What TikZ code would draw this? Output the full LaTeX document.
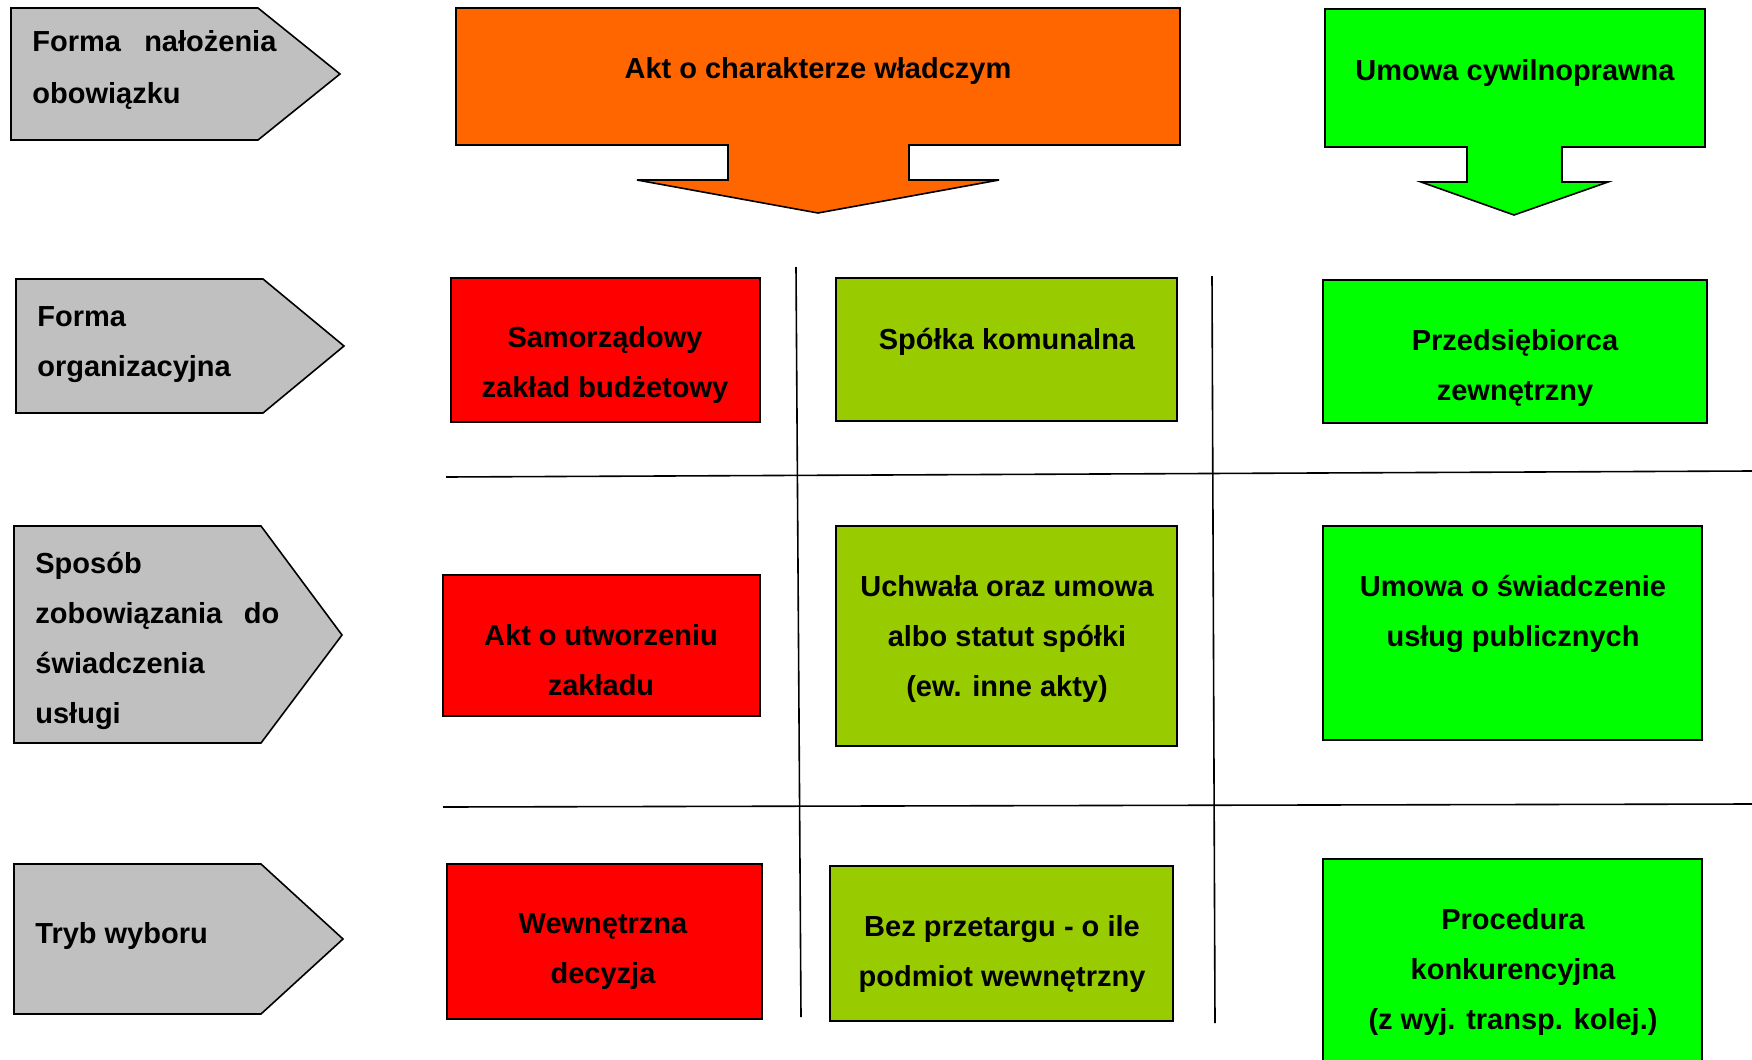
\documentclass[tikz,border=0pt]{standalone}
\usepackage{fontspec}
\setmainfont{Liberation Sans}
\definecolor{cgray}{HTML}{C0C0C0}
\definecolor{corange}{HTML}{FF6600}
\definecolor{cred}{HTML}{FF0000}
\definecolor{colive}{HTML}{99CC00}
\definecolor{cgreen}{HTML}{00FF00}
\begin{document}
\begin{tikzpicture}[x=0.5pt,y=-0.5pt,
  shape border/.style={draw=black, line width=0.8pt, line join=miter},
  grayarrow/.style={shape border, fill=cgray},
  redbox/.style={shape border, fill=cred},
  olivebox/.style={shape border, fill=colive},
  greenbox/.style={shape border, fill=cgreen},
  orangearrow/.style={shape border, fill=corange},
  gridline/.style={draw=black, line width=0.8pt},
  lbl/.style={font=\fontsize{14.5}{25}\selectfont\bfseries, align=center, inner sep=0pt},
  side/.style={font=\fontsize{14.5}{25}\selectfont\bfseries, align=left, anchor=west, inner sep=0pt}]
\useasboundingbox (0,0) rectangle (1752,1060);
\clip (0,0) rectangle (1752,1060);
\fill[white] (0,0) rectangle (1752,1060);

% left category arrows
\draw[grayarrow] (11,8) -- (258,8) -- (340,74) -- (258,140) -- (11,140) -- cycle;
\draw[grayarrow] (16,279) -- (263,279) -- (344,346) -- (263,413) -- (16,413) -- cycle;
\draw[grayarrow] (14,526) -- (261,526) -- (342,635) -- (261,743) -- (14,743) -- cycle;
\draw[grayarrow] (14,864) -- (261,864) -- (343,939) -- (261,1014) -- (14,1014) -- cycle;

\node[side, font=\fontsize{14.5}{26}\selectfont\bfseries] (g1) at (32,70) {\hbox to 122pt{Forma\hfill nałożenia}\\obowiązku};
\node[side] (g2) at (37,345) {Forma\\organizacyjna};
\node[side] (g3) at (35,641) {Sposób\\\hbox to 122pt{zobowiązania\hfill do}\\świadczenia\\usługi};
\node[side] (g4) at (35,936) {Tryb wyboru};

% top block arrows
\draw[orangearrow] (456,8) -- (1180,8) -- (1180,145) -- (909,145) -- (909,180) -- (999,180)
  -- (818,213) -- (637,180) -- (728,180) -- (728,145) -- (456,145) -- cycle;
\draw[greenbox] (1325,9) -- (1705,9) -- (1705,147) -- (1562,147) -- (1562,182) -- (1608,182)
  -- (1514,215) -- (1421,182) -- (1467,182) -- (1467,147) -- (1325,147) -- cycle;
\node[lbl] (akt) at (818,71) {Akt o charakterze władczym};
\node[lbl] (umc) at (1515,73) {Umowa cywilnoprawna};

% grid lines
\coordinate (h1a) at (446,477); \coordinate (h1b) at (1752,471);
\coordinate (h2a) at (443,807); \coordinate (h2b) at (1752,804);
\coordinate (v1a) at (796,267); \coordinate (v1b) at (801,1017);
\coordinate (v2a) at (1212,276); \coordinate (v2b) at (1215,1023);
\draw[gridline] (h1a) -- (h1b);
\draw[gridline] (h2a) -- (h2b);
\draw[gridline] (v1a) -- (v1b);
\draw[gridline] (v2a) -- (v2b);

% boxes
\draw[redbox] (451,278) rectangle (760,422);
\draw[redbox] (443,575) rectangle (760,716);
\draw[redbox] (447,864) rectangle (762,1019);
\draw[olivebox] (836,278) rectangle (1177,421);
\draw[olivebox] (836,526) rectangle (1177,746);
\draw[olivebox] (830,866) rectangle (1173,1021);
\draw[greenbox] (1323,280) rectangle (1707,423);
\draw[greenbox] (1323,526) rectangle (1702,740);
\draw[greenbox] (1323,859) rectangle (1702,1075);

% box texts
\node[lbl] (r1) at (605,365) {Samorządowy\\zakład budżetowy};
\node[lbl] (o1) at (1007,342) {Spółka komunalna};
\node[lbl] (e1) at (1515,368) {Przedsiębiorca\\zewnętrzny};
\node[lbl] (r2) at (601,660) {Akt o utworzeniu\\zakładu};
\node[lbl] (o2) at (1007,639) {Uchwała oraz umowa\\albo statut spółki\\(ew. inne akty)};
\node[lbl] (e2) at (1513,614) {Umowa o świadczenie\\usług publicznych};
\node[lbl] (r3) at (603,952) {Wewnętrzna\\decyzja};
\node[lbl] (o3) at (1002,954) {Bez przetargu - o ile\\podmiot wewnętrzny};
\node[lbl] (e3) at (1513,972) {Procedura\\konkurencyjna\\(z wyj. transp. kolej.)};
\end{tikzpicture}
\end{document}
